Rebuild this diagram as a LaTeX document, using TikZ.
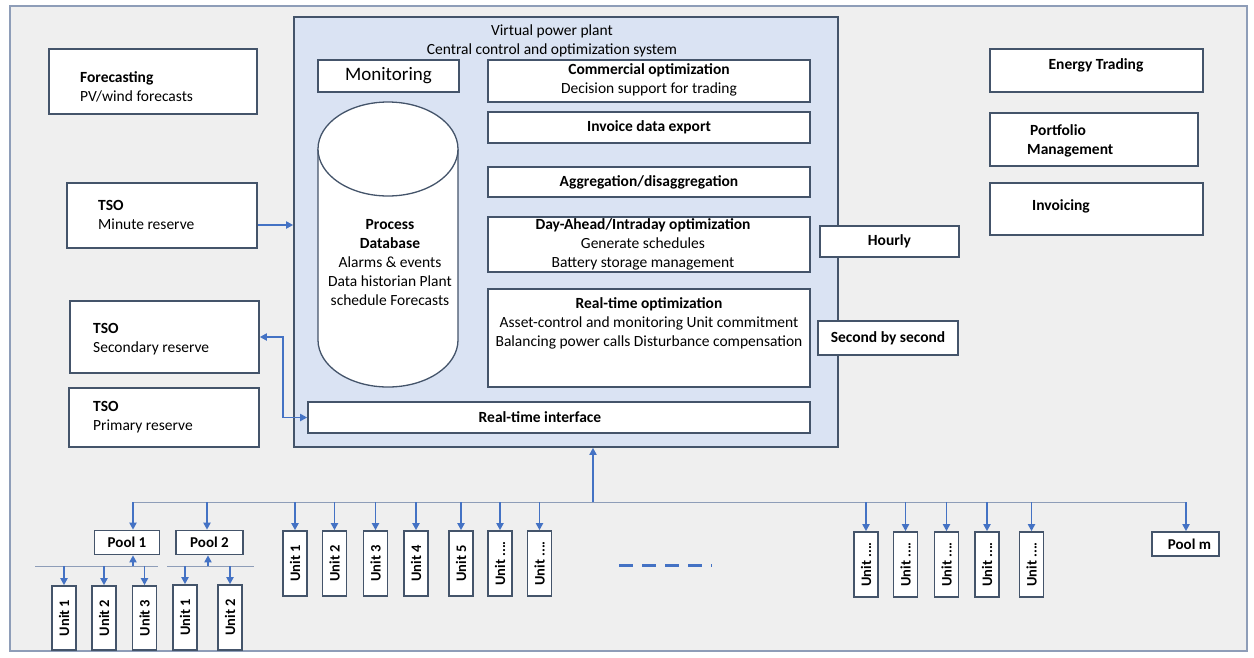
\documentclass[tikz,border=0pt]{standalone}
\usepackage{fontspec}
\setmainfont{Carlito}
\usetikzlibrary{arrows.meta}

\definecolor{panelgray}{HTML}{EFEFEF}
\definecolor{framecol}{HTML}{44546A}
\definecolor{vppblue}{HTML}{DAE3F3}
\definecolor{linkblue}{HTML}{4472C4}
\definecolor{busgray}{HTML}{8E9DB8}

\tikzset{
  box/.style={draw=framecol, line width=1.6pt, fill=white, inner sep=0pt},
  txt/.style={font=\fontsize{15.5}{19}\selectfont, inner sep=0pt, align=center},
  ltxt/.style={txt, align=left, anchor=west},
  unit/.style={box, rotate=90, minimum width=65pt, minimum height=24pt,
    font=\bfseries\fontsize{14.5}{16}\selectfont},
  pool/.style={box, minimum width=65pt, minimum height=24pt,
    font=\bfseries\fontsize{15}{17}\selectfont},
  tip/.tip={Triangle[length=7pt,width=7pt]},
  feed/.style={draw=linkblue, line width=1.8pt, -tip},
  busline/.style={draw=busgray, line width=1pt}
}

\begin{document}
\begin{tikzpicture}[x=1pt,y=-1pt]
\useasboundingbox (0,0) rectangle (1254,657);
\fill[white] (0,0) rectangle (1254,657);
\draw[busgray, line width=1.4pt, fill=panelgray] (10,6) rectangle (1247,651);

% VPP frame
\node[draw=framecol, line width=1.6pt, fill=vppblue, minimum width=544pt, minimum height=430pt, inner sep=0pt] (vpp) at (566,232) {};
\node[txt] (vpptitle) at (552,41) {Virtual power plant\\Central control and optimization system};

\node[box, minimum width=141pt, minimum height=32pt, font=\fontsize{19}{21}\selectfont] (mon) at (388.5,76) {Monitoring};

% process database (cylinder)
\draw[framecol, line width=1.3pt, fill=white] (318,149) -- (318,340) arc[start angle=180, end angle=0, x radius=70, y radius=47] -- (458,149);
\draw[framecol, line width=1.3pt, fill=white] (388,149) ellipse [x radius=70, y radius=47];
\node[txt] (db) at (390,263) {\textbf{Process}\\\textbf{Database}\\Alarms \& events\\Data historian Plant\\schedule Forecasts};

% optimization column
\node[box, minimum width=322pt, minimum height=42pt] (com) at (649,81) {};
\node[txt] (comt) at (649,79.5) {\textbf{Commercial optimization}\\Decision support for trading};
\node[box, minimum width=322pt, minimum height=31pt, font=\bfseries\fontsize{15.5}{19}\selectfont] (inv) at (649,127.5) {Invoice data export};
\node[box, minimum width=322pt, minimum height=30pt, font=\bfseries\fontsize{15.5}{19}\selectfont] (agg) at (649,182) {Aggregation/disaggregation};
\node[box, minimum width=322pt, minimum height=55pt] (dah) at (649,244.5) {};
\node[txt] (daht) at (643,244.5) {\textbf{Day-Ahead/Intraday optimization}\\Generate schedules\\Battery storage management};
\node[box, minimum width=322pt, minimum height=98pt] (rto) at (649,338) {};
\node[txt, anchor=north] (rtot) at (649,297) {\textbf{Real-time optimization}\\Asset-control and monitoring Unit commitment\\Balancing power calls Disturbance compensation};
\node[box, minimum width=502pt, minimum height=31pt] (rti) at (559,417.5) {};
\node[txt, font=\bfseries\fontsize{15.5}{19}\selectfont] (rtit) at (540,417.5) {Real-time interface};

% rates
\node[box, minimum width=139pt, minimum height=31pt, font=\bfseries\fontsize{15.5}{19}\selectfont] (hour) at (889.5,241.5) {Hourly};
\node[box, minimum width=140pt, minimum height=34pt, font=\bfseries\fontsize{15.5}{19}\selectfont] (sec) at (888,338) {Second by second};

% right side
\node[box, minimum width=213pt, minimum height=43pt] (et) at (1096.5,70.5) {};
\node[txt, font=\bfseries\fontsize{15.5}{19}\selectfont] (ett) at (1096,65) {Energy Trading};
\node[box, minimum width=208pt, minimum height=53pt] (pm) at (1094,139.5) {};
\node[ltxt, font=\bfseries\fontsize{15.5}{19}\selectfont] (pmt) at (1027,141) {\hspace{3pt}Portfolio\\Management};
\node[box, minimum width=213pt, minimum height=52pt] (ivc) at (1096.5,209) {};
\node[ltxt, font=\bfseries\fontsize{15.5}{19}\selectfont] (ivct) at (1032,206) {Invoicing};

% left side
\node[box, minimum width=208pt, minimum height=65pt] (fc) at (153,81.5) {};
\node[ltxt] (fct) at (80,86.5) {\textbf{Forecasting}\\PV/wind forecasts};
\node[box, minimum width=190pt, minimum height=65pt] (tso1) at (162,215.5) {};
\node[ltxt] (tso1t) at (98,214.5) {\textbf{TSO}\\Minute reserve};
\node[box, minimum width=189pt, minimum height=72pt] (tso2) at (164.5,337) {};
\node[ltxt] (tso2t) at (93,339) {\textbf{TSO}\\Secondary reserve};
\node[box, minimum width=190pt, minimum height=59pt] (tso3) at (164,417.5) {};
\node[ltxt] (tso3t) at (93,417.5) {\textbf{TSO}\\Primary reserve};

\draw[feed] (tso1.east |- 0,225) -- (vpp.west |- 0,225);
\draw[feed, tip-tip] (tso2.east) -- (283,337) -- (283,417.5) -- (rti.west);

% field level
\coordinate (busL) at (133,502);
\coordinate (busR) at (1186,502);
\coordinate (up) at (593,502);
\draw[busline] (busL) -- (busR);
\draw[feed] (up) -- (up |- vpp.south);

\node[pool] (pool1) at (127,542.5) {Pool 1};
\node[pool, minimum width=67pt] (pool2) at (209.5,542.5) {Pool 2};
\node[pool, minimum width=67pt] (poolm) at (1185.5,544) {\hspace{8pt}Pool m};
\draw[feed] (133,502) -- (pool1.north -| 133,0);
\draw[feed] (207,502) -- (pool2.north -| 207,0);
\draw[feed] (1186,502) -- (poolm.north -| 1186,0);

\foreach \px/\lab [count=\i] in {295/1,334.5/2,375.5/3,416/4,461/5,500/{....},539.5/{....}}{
  \node[unit] (u\i) at (\px,563.5) {Unit \lab};
  \draw[feed] (u\i.east |- busL) -- (u\i.east);
}
\foreach \px [count=\i] in {866,905.5,946.5,987,1031.5}{
  \node[unit] (v\i) at (\px,564.5) {Unit ....};
  \draw[feed] (v\i.east |- busL) -- (v\i.east);
}
\draw[linkblue, line width=3pt, dash pattern=on 14pt off 9pt] (619,565) -- (712,565);

% pool members
\draw[busline] (35,566) -- (158,566);
\draw[busline] (167,566) -- (254,566);
\draw[feed] (133,566) -- (pool1.south -| 133,0);
\draw[feed] (208,566) -- (pool2.south -| 208,0);
\foreach \px [count=\i] in {64,104,144.5}{
  \node[unit, minimum width=64pt] (pa\i) at (\px,618) {Unit \i};
  \draw[feed] (pa\i.east |- 0,566) -- (pa\i.east);
}
\foreach \px [count=\i] in {185,230}{
  \node[unit] (pb\i) at (\px,617.5) {Unit \i};
  \draw[feed] (pb\i.east |- 0,566) -- (pb\i.east);
}
\end{tikzpicture}
\end{document}
